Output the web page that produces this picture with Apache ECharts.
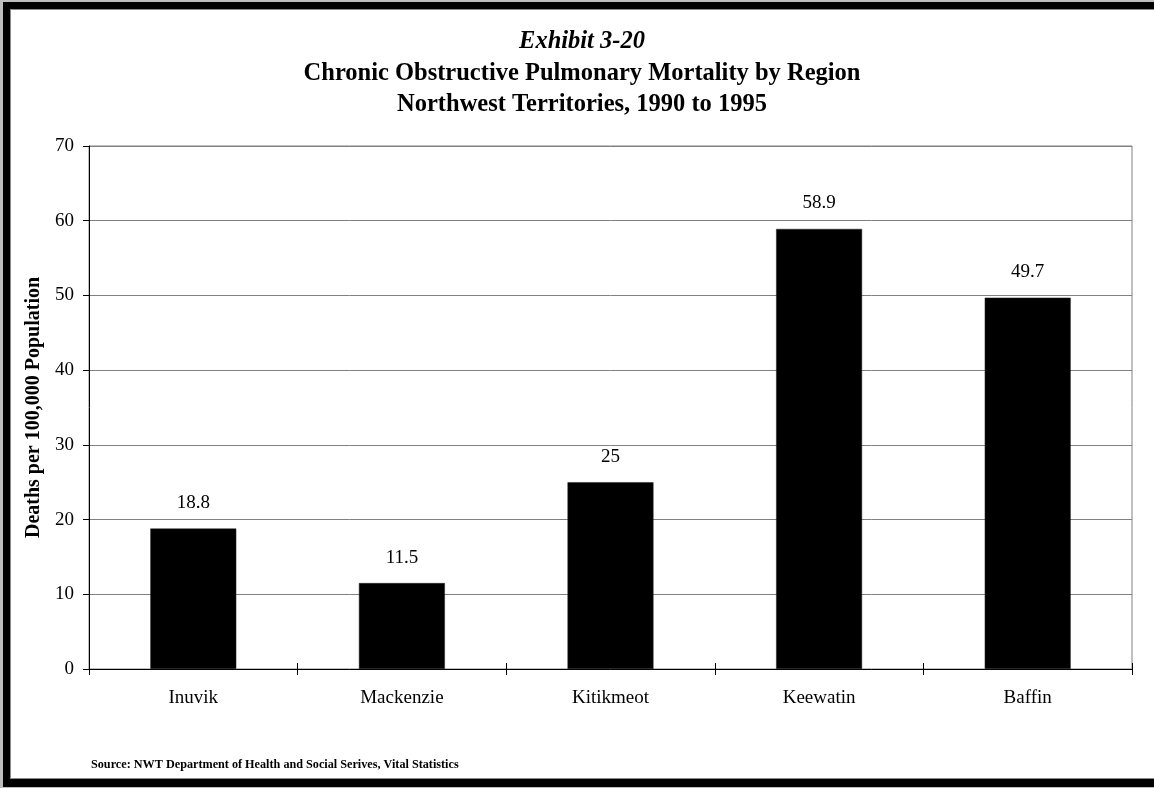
<!DOCTYPE html>
<html>
<head>
<meta charset="utf-8">
<title>Chronic Obstructive Pulmonary Mortality by Region</title>
<script src="https://cdn.jsdelivr.net/npm/echarts@6/dist/echarts.min.js"></script>
<style>
  html, body { margin: 0; padding: 0; width: 1154px; height: 788px; overflow: hidden; background: #bdbdbd; }
  #frame {
    position: absolute; left: 3px; top: 2px; right: -20px; bottom: 1px;
    background: #fff;
    border-left: 7px solid #000; border-top: 7px solid #000; border-bottom: 8px solid #000; border-right: 7px solid #000;
    box-shadow: inset 0 0 0 1px #8a8a8a;
  }
  #chart { position: absolute; left: 0; top: 0; width: 1154px; height: 788px; }
</style>
</head>
<body>
<div id="frame"></div>
<div id="chart"></div>
<script>
// Regions and COPD death rates (per 100,000 population), NWT 1990-1995
const regions = ['Inuvik', 'Mackenzie', 'Kitikmeot', 'Keewatin', 'Baffin'];
const rates = [18.8, 11.5, 25, 58.9, 49.7];

// Value axis range
const yMin = 0;
const yMax = 70;
const yStep = 10;

const titleLines = [
  'Exhibit 3-20',
  'Chronic Obstructive Pulmonary Mortality by Region',
  'Northwest Territories, 1990 to 1995'
];
const yAxisTitle = 'Deaths per 100,000 Population';
const sourceNote = 'Source: NWT Department of Health and Social Serives, Vital Statistics';

const serif = '"Liberation Serif", "Times New Roman", Times, serif';
const chart = echarts.init(document.getElementById('chart'), null, { renderer: 'canvas' });

const titleTops = [29, 61, 92];

chart.setOption({
  backgroundColor: 'transparent',
  animation: false,
  title: titleLines.map((t, i) => ({
    text: t,
    left: 582,
    textAlign: 'center',
    top: titleTops[i],
    padding: 0,
    textStyle: {
      fontFamily: serif,
      fontSize: 24.5,
      fontWeight: 'bold',
      fontStyle: i === 0 ? 'italic' : 'normal',
      color: '#000'
    }
  })),
  grid: {
    left: 89, right: 22, top: 146, bottom: 119,
    show: true, borderColor: '#808080', borderWidth: 1, backgroundColor: 'transparent'
  },
  xAxis: [
    {
      type: 'category',
      position: 'bottom',
      data: regions,
      axisLine: { lineStyle: { color: '#000', width: 1 } },
      axisTick: { show: true, length: 6, lineStyle: { color: '#000' } },
      axisLabel: { margin: 20, color: '#000', fontFamily: serif, fontSize: 19 },
      splitLine: { show: false }
    },
    {
      // inner half of the crossing tick marks
      type: 'category',
      position: 'bottom',
      data: regions,
      axisLine: { show: false },
      axisTick: { show: true, inside: true, length: 6, lineStyle: { color: '#000' } },
      axisLabel: { show: false },
      splitLine: { show: false }
    }
  ],
  yAxis: {
    type: 'value',
    min: yMin,
    max: yMax,
    interval: yStep,
    name: yAxisTitle,
    nameLocation: 'middle',
    nameGap: 38,
    nameTextStyle: { fontFamily: serif, fontSize: 20, fontWeight: 'bold', color: '#000' },
    axisLine: { show: true, lineStyle: { color: '#000', width: 1 } },
    axisTick: { show: true, length: 6, lineStyle: { color: '#000' } },
    axisLabel: { margin: 15, color: '#000', fontFamily: serif, fontSize: 19 },
    splitLine: { show: true, lineStyle: { color: '#808080', width: 1 } }
  },
  series: [{
    type: 'bar',
    xAxisIndex: 0,
    data: rates,
    barWidth: '41.2%',
    itemStyle: { color: '#000', borderColor: '#222', borderWidth: 0.5 },
    label: {
      show: true,
      position: 'top',
      distance: 16,
      color: '#000',
      fontFamily: serif,
      fontSize: 19
    }
  }],
  graphic: [{
    type: 'text',
    left: 91,
    top: 759,
    style: {
      text: sourceNote,
      font: 'bold 12.2px ' + serif,
      fill: '#000'
    }
  }]
});
</script>
</body>
</html>
